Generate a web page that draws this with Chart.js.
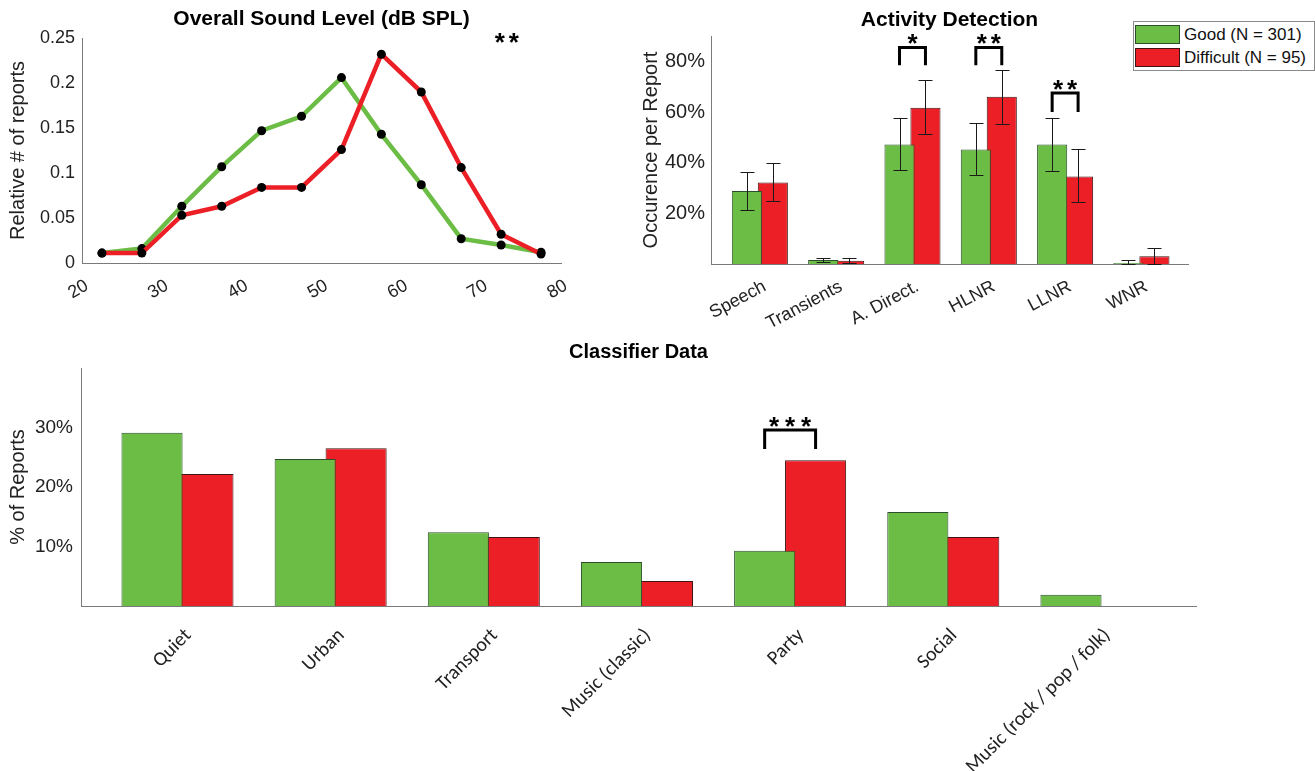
<!DOCTYPE html>
<html>
<head>
<meta charset="utf-8">
<script src="https://cdn.jsdelivr.net/npm/chart.js@4.4.0/dist/chart.umd.min.js"></script>
<style>
  body { margin: 0; background: #fff; width: 1315px; height: 771px; position: relative; overflow: hidden; }
  .panel { position: absolute; }
  #legend {
    position: absolute; left: 1133px; top: 21px; width: 179px; height: 47px;
    border: 1px solid #8a8a8a; background: #fff; padding: 1px 0 0 1px;
    font: 17px 'Liberation Sans', Arial, sans-serif; color: #111;
  }
  #legend .item { display: flex; align-items: center; height: 23px; }
  #legend .swatch { display: inline-block; width: 45px; height: 19px; border: 1px solid #333; margin-right: 4px; box-sizing: border-box; }
</style>
</head>
<body>
<div class="panel" style="left:0;top:0;width:590px;height:300px"><canvas id="levelChart"></canvas></div>
<div class="panel" style="left:600px;top:0;width:715px;height:330px"><canvas id="activityChart"></canvas></div>
<div id="legend"></div>
<div class="panel" style="left:0;top:340px;width:1315px;height:431px"><canvas id="classChart"></canvas></div>

<script>
/* ---- data ---- */
const levelBins      = [22.5, 27.5, 32.5, 37.5, 42.5, 47.5, 52.5, 57.5, 62.5, 67.5, 72.5, 77.5];
const levelGood      = [0.011, 0.016, 0.063, 0.107, 0.147, 0.163, 0.206, 0.143, 0.087, 0.027, 0.020, 0.012];
const levelDifficult = [0.011, 0.011, 0.053, 0.063, 0.084, 0.084, 0.126, 0.232, 0.190, 0.106, 0.032, 0.010];
const levelXTicks    = [20, 30, 40, 50, 60, 70, 80];
const levelYTicks    = [0, 0.05, 0.1, 0.15, 0.2, 0.25];

const activityLabels      = ['Speech', 'Transients', 'A. Direct.', 'HLNR', 'LLNR', 'WNR'];
const activityGood        = [28.8, 1.6, 47.2, 45.2, 47.2, 0.4];
const activityDifficult   = [32.2, 1.3, 61.7, 66.0, 34.5, 3.1];
const activityGoodLow     = [21.4, 0.9, 37.0, 35.1, 36.7, 0.0];
const activityGoodHigh    = [36.3, 2.3, 57.8, 55.6, 57.6, 1.5];
const activityDiffLow     = [24.7, 0.5, 51.2, 55.3, 24.5, 0.0];
const activityDiffHigh    = [39.9, 2.3, 72.7, 76.6, 45.2, 6.5];
const activityYTicks      = [20, 40, 60, 80];

const classLabels    = ['Quiet', 'Urban', 'Transport', 'Music (classic)', 'Party', 'Social', 'Music (rock / pop / folk)'];
const classGood      = [29.1, 24.7, 12.4, 7.4, 9.3, 15.8, 1.9];
const classDifficult = [22.2, 26.5, 11.6, 4.2, 24.5, 11.6, 0];
const classYTicks    = [10, 20, 30];

const seriesNames = ['Good (N = 301)', 'Difficult (N = 95)'];

/* ---- style ---- */
const GREEN = '#6BBD45', GREEN_EDGE = '#2b4f2b';
const RED = '#EC1F26', RED_EDGE = '#3f1315';
const AXIS = '#7a7a7a', TEXT = '#222';
const SANS = "'Liberation Sans', Arial, sans-serif";

Chart.defaults.font.family = SANS;
Chart.defaults.color = TEXT;
Chart.defaults.animation = false;

// force a scale to a fixed thickness so the plot areas line up with the figure
function fixBox(size) {
  return scale => {
    if (scale.isHorizontal()) scale.height = size; else scale.width = size;
    scale.paddingLeft = scale.paddingRight = scale.paddingTop = scale.paddingBottom = 0;
  };
}
function setTicks(values) {
  return scale => { scale.ticks = values.map(v => ({ value: v })); };
}

// titles, error bars, significance brackets and stars
const decorPlugin = {
  id: 'decor',
  afterDatasetsDraw(chart, args, opts) {
    const { ctx, chartArea, scales: { x, y } } = chart;
    ctx.save();

    chart.data.datasets.forEach((ds, di) => {
      if (!ds.errLow) return;
      const meta = chart.getDatasetMeta(di);
      ctx.strokeStyle = '#1a1a1a';
      ctx.lineWidth = 1;
      meta.data.forEach((bar, i) => {
        const yl = Math.round(y.getPixelForValue(ds.errLow[i])) + 0.5;
        const yh = Math.round(y.getPixelForValue(ds.errHigh[i])) + 0.5;
        const bx = Math.round(bar.x) + 0.5;
        ctx.beginPath();
        ctx.moveTo(bx, yl); ctx.lineTo(bx, yh);
        ctx.moveTo(bx - 7, yl); ctx.lineTo(bx + 7, yl);
        ctx.moveTo(bx - 7, yh); ctx.lineTo(bx + 7, yh);
        ctx.stroke();
      });
    });

    const drawStars = (cx, baseY, n, gap) => {
      ctx.fillStyle = '#000';
      ctx.font = 'bold 26px ' + SANS;
      ctx.textAlign = 'center';
      ctx.textBaseline = 'alphabetic';
      for (let k = 0; k < n; k++) ctx.fillText('*', cx + (k - (n - 1) / 2) * gap, baseY);
    };

    (opts.brackets || []).forEach(b => {
      const x0 = chart.getDatasetMeta(0).data[b.index].x;
      const x1 = chart.getDatasetMeta(1).data[b.index].x;
      const y0 = y.getPixelForValue(b.low), y1 = y.getPixelForValue(b.high);
      ctx.strokeStyle = '#000';
      ctx.lineWidth = 3;
      ctx.lineJoin = 'miter';
      ctx.beginPath();
      ctx.moveTo(x0, y0); ctx.lineTo(x0, y1); ctx.lineTo(x1, y1); ctx.lineTo(x1, y0);
      ctx.stroke();
      drawStars((x0 + x1) / 2, y1 + 5, b.stars, b.gap || 14);
    });

    (opts.stars || []).forEach(s => {
      drawStars(x.getPixelForValue(s.x), y.getPixelForValue(s.y), s.n, s.gap || 14);
    });

    if (opts.title) {
      ctx.fillStyle = '#000';
      ctx.font = opts.titleFont || ('bold 20px ' + SANS);
      ctx.textAlign = 'center';
      ctx.textBaseline = 'middle';
      ctx.fillText(opts.title, (chartArea.left + chartArea.right) / 2, opts.titleY);
    }
    ctx.restore();
  }
};

/* ---- Overall Sound Level ---- */
new Chart(document.getElementById('levelChart'), {
  type: 'line',
  data: {
    datasets: [
      { label: seriesNames[0], data: levelBins.map((x, i) => ({ x, y: levelGood[i] })),
        borderColor: GREEN, borderWidth: 4.5, pointRadius: 4.5, pointBackgroundColor: '#000',
        pointBorderWidth: 0, tension: 0, order: 1 },
      { label: seriesNames[1], data: levelBins.map((x, i) => ({ x, y: levelDifficult[i] })),
        borderColor: RED, borderWidth: 4.5, pointRadius: 4.5, pointBackgroundColor: '#000',
        pointBorderWidth: 0, tension: 0, order: 0 },
    ],
  },
  options: {
    responsive: true,
    maintainAspectRatio: false,
    layout: { padding: { top: 38, right: 29, left: 0, bottom: 0 } },
    plugins: {
      legend: { display: false },
      tooltip: { enabled: false },
      decor: { title: 'Overall Sound Level (dB SPL)', titleY: 19, titleFont: 'bold 21px ' + SANS,
               stars: [{ x: 73.2, y: 0.236, n: 2 }] },
    },
    scales: {
      x: {
        type: 'linear', min: 20, max: 80,
        grid: { display: false, drawTicks: false },
        border: { color: AXIS },
        ticks: { font: { size: 18 }, padding: 12, labelOffset: 5, minRotation: 30, maxRotation: 30, autoSkip: false },
        afterBuildTicks: setTicks(levelXTicks),
        afterFit: fixBox(37),
      },
      y: {
        min: 0, max: 0.25,
        grid: { display: false, drawTicks: false },
        border: { color: AXIS },
        ticks: { font: { size: 18 }, padding: 7, callback: v => String(v) },
        title: { display: true, text: 'Relative # of reports', font: { size: 20 }, padding: { top: 6, bottom: 0 } },
        afterBuildTicks: setTicks(levelYTicks),
        afterFit: fixBox(82),
      },
    },
  },
  plugins: [decorPlugin],
});

/* ---- Activity Detection ---- */
const activityChart = new Chart(document.getElementById('activityChart'), {
  type: 'bar',
  data: {
    datasets: [
      { label: seriesNames[0], data: activityGood.map((y, i) => ({ x: i, y })),
        backgroundColor: GREEN, borderColor: GREEN_EDGE, borderWidth: 1,
        errLow: activityGoodLow, errHigh: activityGoodHigh },
      { label: seriesNames[1], data: activityDifficult.map((y, i) => ({ x: i, y })),
        backgroundColor: RED, borderColor: RED_EDGE, borderWidth: 1,
        errLow: activityDiffLow, errHigh: activityDiffHigh },
    ],
  },
  options: {
    responsive: true,
    maintainAspectRatio: false,
    categoryPercentage: 0.68,
    barPercentage: 1.16,
    layout: { padding: { top: 36, right: 127, left: 0, bottom: 0 } },
    plugins: {
      legend: { display: false },
      tooltip: { enabled: false },
      decor: {
        title: 'Activity Detection', titleY: 20,
        titleFont: "bold 21px 'Liberation Sans Narrow', 'Liberation Sans', Arial, sans-serif",
        brackets: [
          { index: 2, low: 78.5, high: 85.5, stars: 1 },
          { index: 3, low: 78.5, high: 85.5, stars: 2 },
          { index: 4, low: 60, high: 67.5, stars: 2 },
        ],
      },
    },
    scales: {
      x: {
        type: 'linear', min: -0.64, max: 5.61, offset: false,
        grid: { display: false, drawTicks: false },
        border: { color: AXIS },
        ticks: { font: { size: 18 }, padding: 12, labelOffset: 5, minRotation: 28, maxRotation: 28, autoSkip: false,
                 callback: v => activityLabels[v] },
        afterBuildTicks: setTicks(activityLabels.map((_, i) => i)),
        afterFit: fixBox(66),
      },
      y: {
        min: 0, max: 90,
        grid: { display: false, drawTicks: false },
        border: { color: AXIS },
        ticks: { font: { size: 20 }, padding: 6, callback: v => v + '%' },
        title: { display: true, text: 'Occurence per Report', font: { size: 20 }, padding: { top: 39, bottom: 0 } },
        afterBuildTicks: setTicks(activityYTicks),
        afterFit: fixBox(111),
      },
    },
  },
  plugins: [decorPlugin],
});

// legend built from the activity datasets
document.getElementById('legend').innerHTML = activityChart.data.datasets.map(ds =>
  `<div class="item"><span class="swatch" style="background:${ds.backgroundColor};border-color:${ds.borderColor}"></span>${ds.label}</div>`
).join('');

/* ---- Classifier Data ---- */
new Chart(document.getElementById('classChart'), {
  type: 'bar',
  data: {
    datasets: [
      { label: seriesNames[0], data: classGood.map((y, i) => ({ x: i, y })),
        backgroundColor: GREEN, borderColor: GREEN_EDGE, borderWidth: 1 },
      { label: seriesNames[1], data: classDifficult.map((y, i) => ({ x: i, y })),
        backgroundColor: RED, borderColor: RED_EDGE, borderWidth: 1 },
    ],
  },
  options: {
    responsive: true,
    maintainAspectRatio: false,
    categoryPercentage: 0.665,
    barPercentage: 1.2,
    layout: { padding: { top: 28, right: 119, left: 0, bottom: 0 } },
    plugins: {
      legend: { display: false },
      tooltip: { enabled: false },
      decor: {
        title: 'Classifier Data', titleY: 12,
        brackets: [{ index: 4, low: 26.4, high: 29.6, stars: 3, gap: 16 }],
      },
    },
    scales: {
      x: {
        type: 'linear', min: -0.63, max: 6.65, offset: false,
        grid: { display: false, drawTicks: false },
        border: { color: AXIS },
        ticks: { font: { size: 20, family: "Carlito, Lato, 'Open Sans', sans-serif" }, padding: 18, labelOffset: 11,
                 minRotation: 45, maxRotation: 45, autoSkip: false, callback: v => classLabels[v] },
        afterBuildTicks: setTicks(classLabels.map((_, i) => i)),
        afterFit: fixBox(165),
      },
      y: {
        min: 0, max: 40,
        grid: { display: false, drawTicks: false },
        border: { color: AXIS },
        ticks: { font: { size: 19 }, padding: 8, callback: v => v + '%' },
        title: { display: true, text: '% of Reports', font: { size: 20 }, padding: { top: 6, bottom: 0 } },
        afterBuildTicks: setTicks(classYTicks),
        afterFit: fixBox(81),
      },
    },
  },
  plugins: [decorPlugin],
});
</script>
</body>
</html>
